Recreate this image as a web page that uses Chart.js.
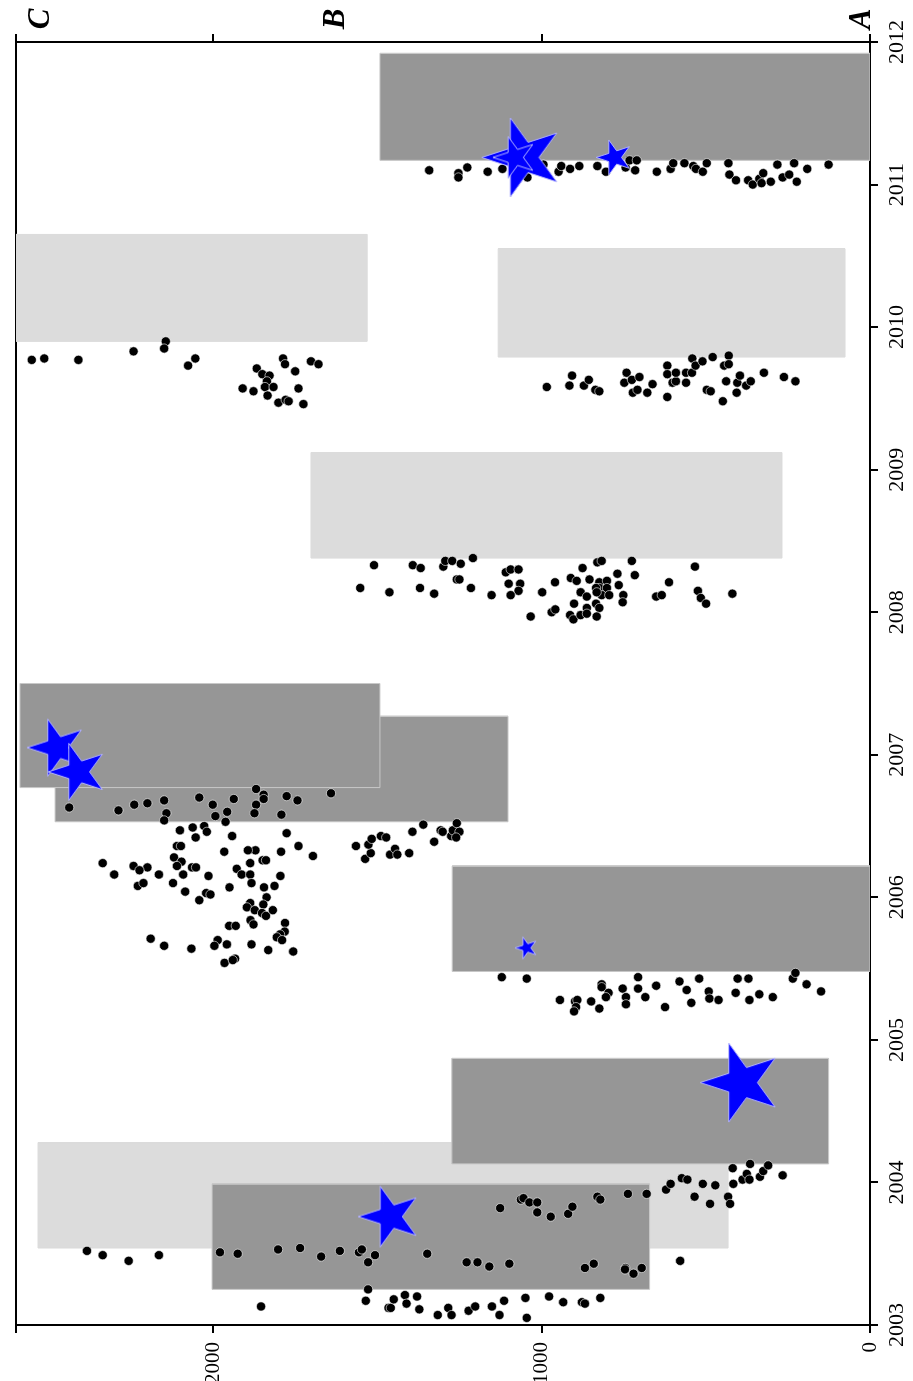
<!DOCTYPE html>
<html><head><meta charset="utf-8">
<script src="https://cdn.jsdelivr.net/npm/chart.js@4.4.1/dist/chart.umd.min.js"></script>
<style>
html,body{margin:0;padding:0;background:#fff;overflow:hidden;width:913px;height:1381px;}
#wrap{position:absolute;left:0;top:0;width:1381px;height:913px;transform-origin:0 0;transform:translate(0px,1381px) rotate(-90deg);}
canvas{display:block;}
</style></head><body>
<div id="wrap"><canvas id="c" width="1381" height="913"></canvas></div>
<script>
// ---------- data ----------
const yearTicks = [2003,2004,2005,2006,2007,2008,2009,2010,2011,2012];
const valueTicks = [0,1000,2000];
const valueMax = 2600;
const sideLabels = ['A','B','C'];
const sideLabelValues = [0,1600,2500];

// shaded windows: start year, end year, low value, high value, shade
const rectYearStart = [2003.54,2009.90,2009.79,2008.38,2003.25,2004.13,2005.48,2006.53,2006.77,2011.17];
const rectYearEnd   = [2004.28,2010.65,2010.55,2009.12,2003.99,2004.87,2006.22,2007.27,2007.50,2011.92];
const rectValueLow  = [432,1531,76,268,671,126,0,1102,1492,0];
const rectValueHigh = [2533,2600,1132,1702,2003,1273,1272,2481,2588,1492];
const rectShade     = ['light','light','light','light','dark','dark','dark','dark','dark','dark'];

// stars: year, value, size
const starYears  = [2004.70,2003.76,2005.645,2007.05,2006.88,2011.19,2011.19,2011.19];
const starValues = [391,1461,1046,2475,2411,1056,1081,778];
const starSizes  = [41.5,32,11.5,30,30,41.5,22,18.4];

// observations [year, value]
const obs2003 = [[2003.52,2384],[2003.49,2336],[2003.45,2257],[2003.49,2165],[2003.51,1979],[2003.50,1925],[2003.53,1802],[2003.54,1735],[2003.48,1671],[2003.52,1614],[2003.51,1556],[2003.53,1547],[2003.49,1507],[2003.44,1528],[2003.50,1348],[2003.44,1228],[2003.44,1195],[2003.13,1854],[2003.25,1528],[2003.17,1535],[2003.12,1466],[2003.12,1459],[2003.18,1450],[2003.21,1416],[2003.15,1411],[2003.20,1379],[2003.11,1372],[2003.07,1316],[2003.12,1284],[2003.07,1274],[2003.10,1222],[2003.13,1202],
[2003.41,1159],[2003.43,1098],[2003.82,1126],[2003.88,1063],[2003.89,1055],[2003.86,1037],[2003.86,1013],[2003.79,1013],[2003.76,972],[2003.78,919],[2003.83,906],[2003.90,830],[2003.88,821],[2003.40,868],[2003.43,841],[2003.40,745],[2003.39,746],[2003.36,720],[2003.40,695],[2003.92,737],[2003.92,680],[2003.95,621],[2003.99,607],[2004.03,573],[2004.02,556],[2003.90,534],[2003.99,509],[2003.98,471],[2003.85,487],[2003.90,432],[2003.85,426],[2004.10,418],[2003.99,416],[2004.02,388],[2004.06,375],[2004.02,367],[2004.13,365],[2004.04,335],[2004.08,325],[2004.12,310],[2004.05,266],[2003.45,578],[2003.13,1151],[2003.07,1128],[2003.17,1114],[2003.19,1049],[2003.05,1045],[2003.20,977],[2003.16,934],[2003.16,877],[2003.15,868],[2003.19,821]];
const obs2005 = [[2005.44,1121],[2005.43,1045],[2005.28,944],[2005.27,898],[2005.28,891],[2005.23,895],[2005.20,901],[2005.27,849],[2005.22,824],[2005.39,817],[2005.37,817],[2005.33,796],[2005.30,804],[2005.36,753],[2005.30,743],[2005.25,743],[2005.44,706],[2005.36,706],[2005.30,684],[2005.38,651],[2005.23,624],[2005.41,580],[2005.35,558],[2005.26,544],[2005.43,520],[2005.34,491],[2005.29,489],[2005.28,461],[2005.33,409],[2005.43,403],[2005.43,370],[2005.28,367],[2005.32,337],[2005.30,296],[2005.43,235],[2005.47,227],[2005.39,193],[2005.34,149]];
const obs2006 = [[2006.63,2438],[2006.61,2288],[2006.65,2240],[2006.66,2200],[2006.68,2149],[2006.59,2142],[2006.54,2149],[2006.70,2042],[2006.65,2001],[2006.57,1993],[2006.60,1957],[2006.53,1962],[2006.69,1937],[2006.76,1869],[2006.72,1846],[2006.69,1846],[2006.65,1869],[2006.59,1874],[2006.58,1792],[2006.71,1776],[2006.68,1743],[2006.73,1641],
[2006.47,2101],[2006.49,2062],[2006.42,2053],[2006.50,2027],[2006.46,2019],[2006.43,1942],[2006.45,1776],[2006.36,1740],[2006.29,1696],[2006.32,1793],[2006.33,1871],[2006.33,1894],[2006.32,1966],[2006.36,2110],[2006.36,2098],[2006.28,2119],[2006.25,2096],[2006.22,2110],[2006.21,2064],[2006.21,2052],[2006.21,2200],[2006.22,2242],[2006.19,2224],[2006.24,2336],[2006.16,2301],[2006.16,2165],[2006.16,2091],[2006.10,2122],[2006.08,2229],[2006.10,2212],[2006.15,2014],[2006.04,2085],[2005.98,2042],[2006.03,2021],[2006.02,2008],[2006.07,1950],[2006.20,1928],[2006.16,1913],[2006.24,1887],[2006.26,1849],[2006.26,1839],[2006.16,1887],[2006.10,1883],[2006.07,1845],[2006.08,1813],[2006.15,1795],[2006.00,1837],[2005.95,1847],[2005.96,1887],[2005.93,1897],[2005.91,1873],[2005.89,1851],[2005.87,1839],[2005.91,1818],[2005.84,1886],[2005.81,1877],[2005.80,1951],[2005.80,1931],[2005.82,1781],[2005.76,1782],[2005.74,1796],[2005.72,1806],[2005.70,1790],[2005.71,2190],[2005.66,2149],[2005.64,2066],[2005.70,1986],[2005.66,1996],[2005.67,1958],[2005.67,1883],[2005.63,1832],[2005.62,1756],[2005.54,1965],[2005.57,1933],[2005.56,1940],
[2006.36,1565],[2006.27,1537],[2006.31,1520],[2006.37,1527],[2006.41,1517],[2006.43,1489],[2006.42,1473],[2006.30,1461],[2006.34,1446],[2006.30,1439],[2006.31,1403],[2006.46,1393],[2006.51,1360],[2006.39,1327],[2006.47,1307],[2006.46,1301],[2006.43,1275],[2006.47,1270],[2006.52,1258],[2006.46,1250],[2006.42,1260]];
const obs2008 = [[2008.33,1510],[2008.33,1392],[2008.31,1368],[2008.32,1299],[2008.36,1293],[2008.36,1272],[2008.34,1246],[2008.38,1209],[2008.23,1258],[2008.23,1250],[2008.17,1552],[2008.14,1463],[2008.17,1370],[2008.13,1327],[2008.17,1215],[2008.12,1152],[2008.28,1109],[2008.30,1094],[2008.30,1070],[2008.20,1100],[2008.20,1065],[2008.15,1070],[2008.12,1094],[2008.14,998],[2008.21,959],[2007.97,1033],[2008.00,969],[2008.02,958],[2008.24,911],[2008.22,893],[2008.23,854],[2008.31,875],[2008.35,830],[2008.36,817],[2008.36,725],[2008.27,769],[2008.26,716],[2008.19,765],[2008.21,824],[2008.22,801],[2008.17,824],[2008.17,834],[2008.17,801],[2008.14,881],[2008.11,862],[2008.12,817],[2008.12,794],[2008.14,832],[2008.12,751],[2008.07,753],[2008.06,901],[2008.03,862],[2008.06,834],[2008.03,824],[2007.98,913],[2007.95,903],[2007.98,881],[2007.99,862],[2007.97,832],[2008.11,651],[2008.12,634],[2008.21,612],[2008.32,533],[2008.15,524],[2008.10,515],[2008.06,499],[2008.13,419]];
const obs2009 = [[2009.77,2552],[2009.78,2514],[2009.77,2410],[2009.83,2242],[2009.90,2144],[2009.85,2149],[2009.73,2076],[2009.78,2054],[2009.71,1867],[2009.67,1850],[2009.66,1828],[2009.62,1836],[2009.58,1842],[2009.58,1816],[2009.52,1834],[2009.57,1910],[2009.55,1877],[2009.78,1787],[2009.74,1781],[2009.69,1750],[2009.76,1702],[2009.74,1679],[2009.57,1740],[2009.47,1801],[2009.49,1779],[2009.48,1770],[2009.46,1725],
[2009.58,984],[2009.59,915],[2009.66,907],[2009.59,871],[2009.63,856],[2009.56,836],[2009.55,824],[2009.61,748],[2009.68,741],[2009.63,725],[2009.65,702],[2009.54,722],[2009.56,708],[2009.54,678],[2009.60,662],[2009.73,617],[2009.67,617],[2009.51,617],[2009.61,601],[2009.62,591],[2009.68,591],[2009.61,560],[2009.68,560],[2009.68,542],[2009.78,541],[2009.73,531],[2009.76,510],[2009.79,479],[2009.73,444],[2009.80,430],[2009.74,430],[2009.62,438],[2009.48,448],[2009.56,497],[2009.55,485],[2009.54,406],[2009.61,404],[2009.66,396],[2009.59,377],[2009.62,363],[2009.68,323],[2009.65,262],[2009.62,227]];
const obs2011 = [[2011.10,1342],[2011.08,1253],[2011.05,1253],[2011.12,1226],[2011.09,1164],[2011.11,1119],[2011.11,1081],[2011.05,1043],[2011.14,994],[2011.09,948],[2011.13,940],[2011.11,913],[2011.13,885],[2011.13,830],[2011.09,804],[2011.12,744],[2011.17,732],[2011.17,710],[2011.10,715],[2011.09,649],[2011.11,607],[2011.15,599],[2011.15,565],[2011.13,538],[2011.11,530],[2011.09,509],[2011.15,497],[2011.15,431],[2011.07,428],[2011.03,408],[2011.03,371],[2011.00,357],[2011.04,337],[2011.08,325],[2011.01,330],[2011.02,302],[2011.14,282],[2011.05,266],[2011.07,246],[2011.15,231],[2011.02,223],[2011.11,191],[2011.14,126]];

// ---------- drawing ----------
const SERIF = '"Liberation Serif","Times New Roman",serif';
const allObs = [].concat(obs2003, obs2005, obs2006, obs2008, obs2009, obs2011);

function starImage(r){
  const pad = 2, s = Math.ceil(2*r + 2*pad);
  const c = document.createElement('canvas'); c.width = s; c.height = s;
  const g = c.getContext('2d'); g.translate(s/2, s/2);
  g.beginPath();
  for (let i = 0; i < 10; i++) {
    const rad = (i % 2) ? r*0.382 : r;
    const a = -Math.PI/2 + i*Math.PI/5;
    g.lineTo(rad*Math.cos(a), rad*Math.sin(a));
  }
  g.closePath();
  g.fillStyle = '#0000ff'; g.fill();
  g.lineWidth = 1; g.strokeStyle = '#b4b4ff'; g.stroke();
  return c;
}

const shadeFill = {light:'#dcdcdc', dark:'#969696'};
const shadeEdge = {light:'#dcdcdc', dark:'#c8c8c8'};
const rectSets = rectYearStart.map((_, i) => ({
  data: [
    {x:rectYearStart[i], y:rectValueLow[i]},
    {x:rectYearStart[i], y:rectValueHigh[i]},
    {x:rectYearEnd[i],   y:rectValueHigh[i]},
    {x:rectYearEnd[i],   y:rectValueLow[i]},
    {x:rectYearStart[i], y:rectValueLow[i]}
  ],
  showLine: true, fill: 'shape', tension: 0,
  backgroundColor: shadeFill[rectShade[i]],
  borderColor: shadeEdge[rectShade[i]],
  borderWidth: 1, pointRadius: 0, pointHoverRadius: 0,
  order: 1000 - i - (rectShade[i] === 'dark' ? 100 : 0)
}));

const pointSet = {
  data: allObs.map(p => ({x:p[0], y:p[1]})),
  pointRadius: 4.6, pointHoverRadius: 4.6,
  backgroundColor: '#000', borderColor: 'rgba(255,255,255,0.75)', borderWidth: 0.8,
  order: 1
};
const starSet = {
  data: starYears.map((y, i) => ({x:y, y:starValues[i]})),
  pointStyle: starSizes.map(s => starImage(s)),
  pointRadius: 10, order: 0
};

const sideLabelPlugin = {
  id: 'sideLabels',
  afterDraw(chart){
    const {ctx, chartArea, scales} = chart;
    ctx.save();
    ctx.font = 'italic bold 31px ' + SERIF;
    ctx.fillStyle = '#000'; ctx.textAlign = 'center'; ctx.textBaseline = 'alphabetic';
    sideLabels.forEach((t, i) => {
      const y = scales.y2.getPixelForValue(sideLabelValues[i]);
      ctx.fillText(t, chartArea.right + 23, y);
    });
    ctx.restore();
  }
};

const axisGrid = {drawOnChartArea:false, drawTicks:true, tickLength:8, color:'#000', lineWidth:2};
const axisBorder = {display:true, color:'#000', width:2};
const valueTickList = () => valueTicks.concat([valueMax]).map(v => ({value:v}));
const noPad = s => { s.paddingTop = 0; s.paddingBottom = 0; s.paddingLeft = 0; s.paddingRight = 0; };

new Chart(document.getElementById('c'), {
  type: 'scatter',
  data: { datasets: rectSets.concat([pointSet, starSet]) },
  options: {
    responsive: false, animation: false, devicePixelRatio: 1,
    layout: {padding: 0},
    plugins: {legend:{display:false}, tooltip:{enabled:false}},
    events: [],
    scales: {
      x: {
        type:'linear', position:'bottom', min:2003, max:2012,
        afterBuildTicks: s => { s.ticks = yearTicks.map(v => ({value:v})); },
        afterFit: s => { s.height = 43; noPad(s); },
        ticks: {font:{family:SERIF, size:22}, color:'#000', padding:6, maxRotation:0, minRotation:0, callback: v => String(v)},
        grid: axisGrid, border: axisBorder
      },
      x2: {
        type:'linear', position:'top', min:2003, max:2012,
        afterFit: s => { s.height = 16; noPad(s); },
        ticks: {display:false}, grid: {display:false, drawTicks:false}, border: axisBorder
      },
      y: {
        type:'linear', position:'left', min:0, max:valueMax,
        afterBuildTicks: s => { s.ticks = valueTickList(); },
        afterFit: s => { s.width = 56; noPad(s); },
        ticks: {font:{family:SERIF, size:21}, color:'#000', padding:9, callback: v => valueTicks.includes(v) ? String(v) : ''},
        grid: axisGrid, border: axisBorder
      },
      y2: {
        type:'linear', position:'right', min:0, max:valueMax,
        afterBuildTicks: s => { s.ticks = valueTickList(); },
        afterFit: s => { s.width = 42; noPad(s); },
        ticks: {display:false},
        grid: axisGrid, border: axisBorder
      }
    }
  },
  plugins: [sideLabelPlugin]
});
</script>
</body></html>
